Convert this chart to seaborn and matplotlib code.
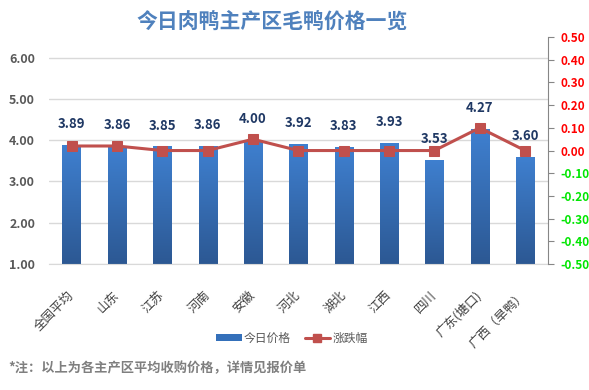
import numpy as np
import pandas as pd
import matplotlib
matplotlib.use('Agg')
import matplotlib.pyplot as plt
import seaborn as sns
from matplotlib.colors import LinearSegmentedColormap
from matplotlib.patches import Patch
from matplotlib.lines import Line2D

regions = ['全国平均', '山东', '江苏', '河南', '安徽', '河北', '湖北', '江西', '四川', '广东(塘口)', '广西（旱鸭）']
prices = [3.89, 3.86, 3.85, 3.86, 4.00, 3.92, 3.83, 3.93, 3.53, 4.27, 3.60]
changes = [0.02, 0.02, 0.00, 0.00, 0.05, 0.00, 0.00, 0.00, 0.00, 0.10, 0.00]

price_ticks = [1, 2, 3, 4, 5, 6]
change_ticks = [-0.5, -0.4, -0.3, -0.2, -0.1, 0.0, 0.1, 0.2, 0.3, 0.4, 0.5]

df = pd.DataFrame({'地区': regions, '今日价格': prices, '涨跌幅': changes})

sns.set_style('white')
plt.rcParams['font.family'] = ['Noto Sans CJK SC', 'DejaVu Sans']
plt.rcParams['axes.unicode_minus'] = False

bar_top = '#3F80D0'
bar_bottom = '#2C5893'
line_color = '#C0504D'

fig = plt.figure(figsize=(5.89, 3.9), dpi=100)
ax = fig.add_axes([0.083, 0.323, 0.847, 0.582])

sns.barplot(data=df, x='地区', y='今日价格', color=bar_top, width=0.4,
            saturation=1, ax=ax, zorder=2)
ax.set_xlim(-0.5, 10.5)
ax.set_ylim(1, 6.5)

# vertical gradient on each bar
cmap = LinearSegmentedColormap.from_list('bar', [bar_bottom, bar_top])
grad = np.linspace(0, 1, 256).reshape(-1, 1)
for p in ax.patches:
    x0, y0 = p.get_x(), p.get_y()
    w, h = p.get_width(), p.get_height()
    p.set_facecolor('none')
    p.set_edgecolor('none')
    im = ax.imshow(grad, cmap=cmap, origin='lower', aspect='auto',
                   extent=[x0, x0 + w, 1, y0 + h], zorder=2)
    im.set_clip_path(p)
ax.set_xlim(-0.5, 10.5)
ax.set_ylim(1, 6.5)

for i, v in enumerate(prices):
    ax.annotate(f'{v:.2f}', (i, v), xytext=(0, 10), textcoords='offset points',
                ha='center', va='bottom', fontsize=9.5, fontweight='bold',
                color='#1F3864', zorder=5)

ax.set_yticks(price_ticks)
ax.set_yticklabels([f'{t:.2f}' for t in price_ticks], fontsize=9,
                   fontweight='bold', color='#595959')
ax.yaxis.grid(True, color='#D9D9D9', linewidth=1, zorder=0)
ax.set_axisbelow(True)
ax.tick_params(axis='y', length=0, pad=10)
ax.tick_params(axis='x', length=0, pad=21)
ax.set_xlabel('')
ax.set_ylabel('')
plt.setp(ax.get_xticklabels(), rotation=45, ha='right', va='center',
         rotation_mode='anchor', fontsize=9, color='#404040')
for s in ['top', 'left', 'right']:
    ax.spines[s].set_visible(False)
ax.spines['bottom'].set_color('#D9D9D9')

ax2 = ax.twinx()
sns.lineplot(x=np.arange(len(changes)), y=changes, ax=ax2, color=line_color,
             linewidth=2.2, marker='s', markersize=7, markeredgecolor=line_color,
             zorder=3)
ax2.set_ylim(-0.5, 0.5)
ax2.set_yticks(change_ticks)
ax2.set_yticklabels([f'{t:.2f}' for t in change_ticks], fontsize=8.5, fontweight='bold')
for lab, t in zip(ax2.get_yticklabels(), change_ticks):
    lab.set_color('#FF0000' if t >= 0 else '#00E600')
ax2.tick_params(axis='y', direction='out', length=4, color='#868686', pad=5)
for s in ['top', 'left', 'bottom']:
    ax2.spines[s].set_visible(False)
ax2.spines['right'].set_color('#868686')
ax2.set_ylabel('')
ax2.grid(False)

fig.text(0.462, 0.944, '今日肉鸭主产区毛鸭价格一览', ha='center', va='center',
         fontsize=15, fontweight='bold', color='#4F81BD')

handles = [Patch(facecolor='#3470BA', edgecolor='none'),
           Line2D([0], [0], color=line_color, linewidth=2.2, marker='s',
                  markersize=6)]
fig.legend(handles, ['今日价格', '涨跌幅'], loc='center', bbox_to_anchor=(0.495, 0.133),
           ncol=2, frameon=False, fontsize=8.5, handlelength=2.2, handleheight=0.6,
           columnspacing=1.2, handletextpad=0.15, labelcolor='#595959')

fig.text(0.014, 0.056, '*注：以上为各主产区平均收购价格，详情见报价单', ha='left',
         va='center', fontsize=9.5, fontweight='bold', color='#7F7F7F')

fig.savefig('out.png', dpi=100)
